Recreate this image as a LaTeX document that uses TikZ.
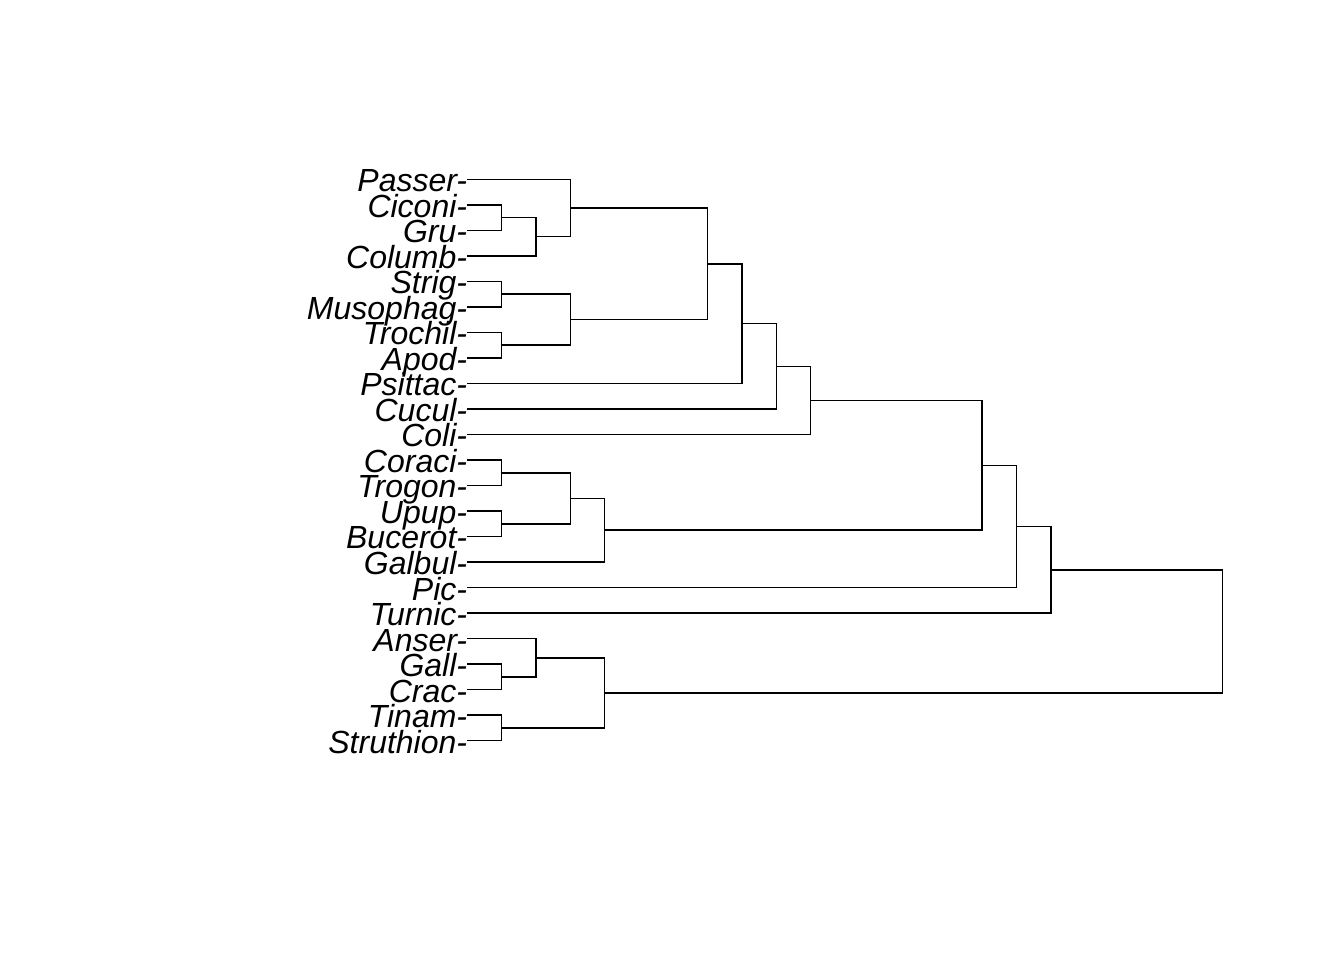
\documentclass[tikz,border=0pt]{standalone}
\usepackage{fontspec}
\setmainfont{Liberation Sans}

\begin{document}
\begin{tikzpicture}[x=34.33pt, y=-25.52pt,
    branch/.style={line width=1.5pt, line join=miter},
    taxon/.style={anchor=base east, inner sep=0pt,
      font=\fontsize{32}{32}\selectfont\itshape}]
  \useasboundingbox (-13.612,-7.026) rectangle (25.538,30.592);

  % leaf ends and labels
  \coordinate (l0) at (0,0);   \node[taxon] (t0) at (0,0.486) {Passer-};
  \coordinate (l1) at (0,1);   \node[taxon] (t1) at (0,1.486) {Ciconi-};
  \coordinate (l2) at (0,2);   \node[taxon] (t2) at (0,2.486) {Gru-};
  \coordinate (l3) at (0,3);   \node[taxon] (t3) at (0,3.486) {Columb-};
  \coordinate (l4) at (0,4);   \node[taxon] (t4) at (0,4.486) {Strig-};
  \coordinate (l5) at (0,5);   \node[taxon] (t5) at (0,5.486) {Musophag-};
  \coordinate (l6) at (0,6);   \node[taxon] (t6) at (0,6.486) {Trochil-};
  \coordinate (l7) at (0,7);   \node[taxon] (t7) at (0,7.486) {Apod-};
  \coordinate (l8) at (0,8);   \node[taxon] (t8) at (0,8.486) {Psittac-};
  \coordinate (l9) at (0,9);   \node[taxon] (t9) at (0,9.486) {Cucul-};
  \coordinate (l10) at (0,10); \node[taxon] (t10) at (0,10.486) {Coli-};
  \coordinate (l11) at (0,11); \node[taxon] (t11) at (0,11.486) {Coraci-};
  \coordinate (l12) at (0,12); \node[taxon] (t12) at (0,12.486) {Trogon-};
  \coordinate (l13) at (0,13); \node[taxon] (t13) at (0,13.486) {Upup-};
  \coordinate (l14) at (0,14); \node[taxon] (t14) at (0,14.486) {Bucerot-};
  \coordinate (l15) at (0,15); \node[taxon] (t15) at (0,15.486) {Galbul-};
  \coordinate (l16) at (0,16); \node[taxon] (t16) at (0,16.486) {Pic-};
  \coordinate (l17) at (0,17); \node[taxon] (t17) at (0,17.486) {Turnic-};
  \coordinate (l18) at (0,18); \node[taxon] (t18) at (0,18.486) {Anser-};
  \coordinate (l19) at (0,19); \node[taxon] (t19) at (0,19.486) {Gall-};
  \coordinate (l20) at (0,20); \node[taxon] (t20) at (0,20.486) {Crac-};
  \coordinate (l21) at (0,21); \node[taxon] (t21) at (0,21.486) {Tinam-};
  \coordinate (l22) at (0,22); \node[taxon] (t22) at (0,22.486) {Struthion-};

  % merge points (height, midpoint of children)
  \coordinate (m1) at (1,1.5);
  \coordinate (m2) at (2,2.25);
  \coordinate (m3) at (3,1.125);
  \coordinate (m4) at (1,4.5);
  \coordinate (m5) at (1,6.5);
  \coordinate (m6) at (3,5.5);
  \coordinate (m7) at (7,3.3125);
  \coordinate (m8) at (8,5.65625);
  \coordinate (m9) at (9,7.328125);
  \coordinate (m10) at (10,8.6640625);
  \coordinate (m11) at (1,11.5);
  \coordinate (m12) at (1,13.5);
  \coordinate (m13) at (3,12.5);
  \coordinate (m14) at (4,13.75);
  \coordinate (m15) at (15,11.20703125);
  \coordinate (m16) at (16,13.603515625);
  \coordinate (m17) at (17,15.3017578125);
  \coordinate (m18) at (1,19.5);
  \coordinate (m19) at (2,18.75);
  \coordinate (m20) at (1,21.5);
  \coordinate (m21) at (4,20.125);
  \coordinate (m22) at (22,17.71337890625);

  % branches
  \draw[branch] (l1) -| (m1) |- (l2);
  \draw[branch] (m1) -| (m2) |- (l3);
  \draw[branch] (l0) -| (m3) |- (m2);
  \draw[branch] (l4) -| (m4) |- (l5);
  \draw[branch] (l6) -| (m5) |- (l7);
  \draw[branch] (m4) -| (m6) |- (m5);
  \draw[branch] (m3) -| (m7) |- (m6);
  \draw[branch] (m7) -| (m8) |- (l8);
  \draw[branch] (m8) -| (m9) |- (l9);
  \draw[branch] (m9) -| (m10) |- (l10);
  \draw[branch] (l11) -| (m11) |- (l12);
  \draw[branch] (l13) -| (m12) |- (l14);
  \draw[branch] (m11) -| (m13) |- (m12);
  \draw[branch] (m13) -| (m14) |- (l15);
  \draw[branch] (m10) -| (m15) |- (m14);
  \draw[branch] (m15) -| (m16) |- (l16);
  \draw[branch] (m16) -| (m17) |- (l17);
  \draw[branch] (l19) -| (m18) |- (l20);
  \draw[branch] (l18) -| (m19) |- (m18);
  \draw[branch] (l21) -| (m20) |- (l22);
  \draw[branch] (m19) -| (m21) |- (m20);
  \draw[branch] (m17) -| (m22) |- (m21);
\end{tikzpicture}
\end{document}
